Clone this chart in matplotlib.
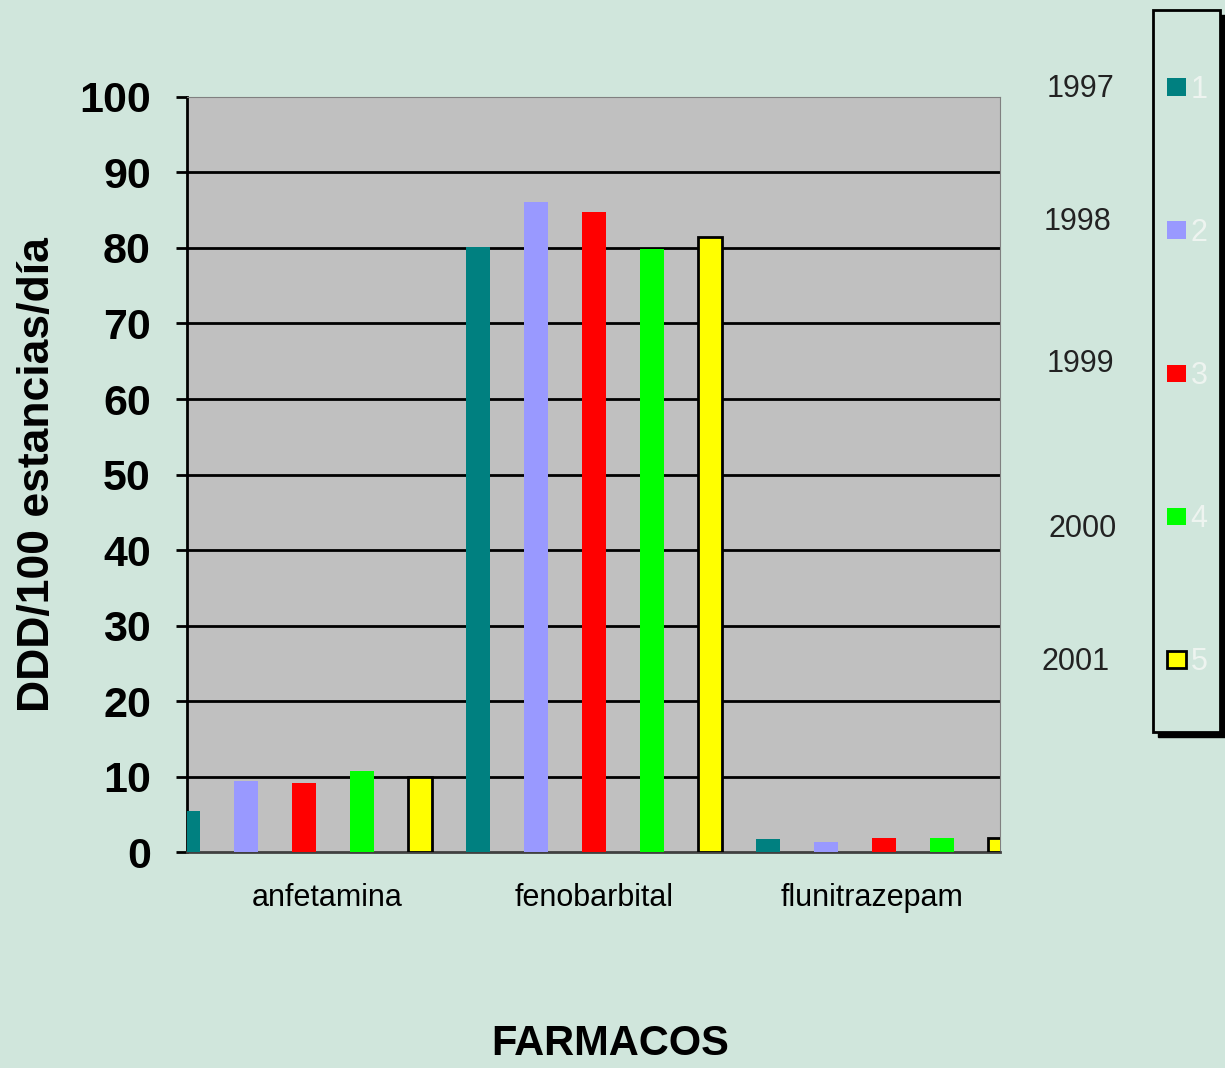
import numpy as np
import matplotlib.pyplot as plt
from matplotlib.patches import Patch, Rectangle

plt.rcParams['font.family'] = ['Liberation Sans', 'DejaVu Sans']

farmacos = ['anfetamina', 'fenobarbital', 'flunitrazepam']
years = ['1997', '1998', '1999', '2000', '2001']
series_names = ['1', '2', '3', '4', '5']
# DDD/100 estancias/dia per drug, one list per year
ddd_1997 = [5.4, 80.1, 1.7]
ddd_1998 = [9.4, 86.1, 1.3]
ddd_1999 = [9.1, 84.8, 1.8]
ddd_2000 = [10.7, 79.9, 1.8]
ddd_2001 = [9.9, 81.5, 1.8]
values = [ddd_1997, ddd_1998, ddd_1999, ddd_2000, ddd_2001]

colors = ['#008080', '#9999ff', '#ff0000', '#00ff00', '#ffff00']
edges = ['none', 'none', 'none', 'none', 'black']
bg = '#d0e6dc'

W, H = 1225, 1068
fig = plt.figure(figsize=(W / 100, H / 100), dpi=100, facecolor=bg)
ax = fig.add_axes([0.1527, 0.2022, 0.6636, 0.707])
ax.set_facecolor('#c0c0c0')

n_series = len(values)
for s in range(n_series):
    x = np.arange(len(farmacos)) * n_series + s
    ax.bar(x, values[s], width=0.41, color=colors[s], edgecolor=edges[s],
           linewidth=2 if edges[s] != 'none' else 0, zorder=3)

ax.set_xlim(-0.02, 14.0)
ax.set_ylim(0, 100)
ax.set_yticks(np.arange(0, 101, 10))
ax.yaxis.grid(True, color='black', linewidth=2, zorder=1)
ax.set_axisbelow(True)
gl = ax.get_ygridlines()
gl[0].set_visible(False)
gl[-1].set_visible(False)

# group labels sit roughly under the middle of each group
ax.set_xticks([2.4, 7.0, 11.8])
ax.set_xticklabels(farmacos, fontsize=22)
ax.tick_params(axis='x', length=0, pad=22)
ax.tick_params(axis='y', length=8, width=2, direction='out', labelsize=31, pad=18)
for lab in ax.get_yticklabels():
    lab.set_fontweight('bold')

ax.spines['left'].set_color('black')
ax.spines['left'].set_linewidth(2)
ax.spines['bottom'].set_color('#404040')
ax.spines['bottom'].set_linewidth(2)
ax.spines['top'].set_color('#808080')
ax.spines['right'].set_color('#808080')

ax.set_ylabel('DDD/100 estancias/día', fontsize=32, fontweight='bold', labelpad=15)
fig.text(0.498, 0.012, 'FARMACOS', fontsize=30, fontweight='bold', ha='center')

# legend frame with a dark drop shadow
bx0, bx1, by0, by1 = 1153, 1220, 10, 732
fig.patches.append(Rectangle((bx0 / W + 0.004, 1 - by1 / H - 0.005), (bx1 - bx0) / W, (by1 - by0) / H,
                             transform=fig.transFigure, facecolor='black', edgecolor='black', zorder=1))
fig.patches.append(Rectangle((bx0 / W, 1 - by1 / H), (bx1 - bx0) / W, (by1 - by0) / H,
                             transform=fig.transFigure, facecolor=bg, edgecolor='black',
                             linewidth=2, zorder=2))

handles = [Patch(facecolor=c, edgecolor=e if e != 'none' else c, linewidth=2 if e != 'none' else 0)
           for c, e in zip(colors, edges)]
leg = fig.legend(handles, series_names, loc='upper left',
                 bbox_to_anchor=(1167 / W, 1 - 75 / H), fontsize=22, labelcolor='#eef4f0',
                 handlelength=0.62, handleheight=0.5, handletextpad=0.15,
                 labelspacing=3.7, borderpad=0, borderaxespad=0, frameon=False)
leg.set_zorder(3)

year_y = [0.917, 0.792, 0.659, 0.505, 0.380]
year_x = [0.882, 0.880, 0.882, 0.884, 0.878]
for yr, xx, yy in zip(years, year_x, year_y):
    fig.text(xx, yy, yr, fontsize=22, ha='center', va='center', color='#222222')

fig.savefig('out.png', dpi=100, facecolor=bg)
